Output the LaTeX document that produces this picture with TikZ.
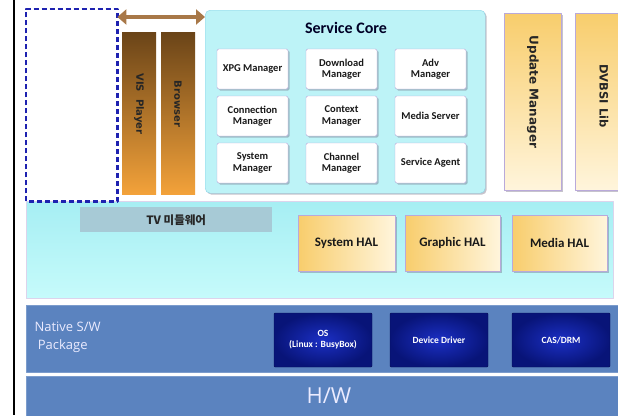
\documentclass[tikz,border=0pt]{standalone}
\usepackage{fontspec}
\setmainfont{Carlito}
\newfontfamily\krfont{Noto Sans CJK KR}
\newfontfamily\vfont{DejaVu Sans}
\newfontfamily\lightfont{Open Sans}
\usetikzlibrary{shadows,arrows.meta}
\definecolor{coreC}{HTML}{BDF3F7}
\definecolor{coreL}{HTML}{8CD2E6}
\definecolor{mwTop}{HTML}{A6EEF3}
\definecolor{mwBot}{HTML}{C6FBFB}
\definecolor{tvC}{HTML}{A7CAD6}
\definecolor{bandC}{HTML}{5B83BF}
\definecolor{mgrL}{HTML}{B9A9DA}
\definecolor{halL}{HTML}{F8CD6C}
\definecolor{halR}{HTML}{FFF5DC}
\definecolor{barTop}{HTML}{6A4418}
\definecolor{barBot}{HTML}{F3A23A}
\definecolor{arrC}{HTML}{A87848}
\definecolor{navyA}{HTML}{1B2FC4}
\definecolor{navyB}{HTML}{081478}
\definecolor{dashC}{HTML}{1E22B0}
\begin{document}
\begin{tikzpicture}[x=1pt,y=-1pt,line join=round,
  box/.style={anchor=north west,inner sep=0pt},
  shad/.style={drop shadow={shadow xshift=1.5pt,shadow yshift=-1.5pt,opacity=.35,fill=black!50!mgrL}},
  mgr/.style={draw=mgrL,fill=white,rounded corners=1.5pt,shad,minimum width=71pt,minimum height=40pt,
    align=center,inner sep=1pt,font=\bfseries\fontsize{10.5}{11.5}\selectfont,text=black!90},
  hal/.style={draw=mgrL,left color=halL,right color=halR,shad,minimum height=56pt,
    font=\bfseries\fontsize{13}{14}\selectfont,text=black!90},
  upd/.style={box,draw=mgrL,top color=halL,bottom color=halR,shad,minimum width=57pt,minimum height=177pt},
  bar/.style={box,top color=barTop,bottom color=barBot,minimum width=34pt,minimum height=162pt},
  dark/.style={draw=navyB!70!black,inner color=navyA,outer color=navyB,rounded corners=1pt,minimum width=98pt,
    minimum height=54pt,align=center,text=white,font=\bfseries\fontsize{9.5}{11}\selectfont},
  band/.style={box,fill=bandC,draw=bandC!80!white,minimum width=600pt},
  vtext/.style={rotate=-90,font=\vfont\bfseries\fontsize{10}{12}\selectfont,text=black!85},
  dashbox/.style={box,fill=white,minimum width=91pt,minimum height=192pt},
  biarrow/.style={arrC,line width=4pt,{Triangle[length=9pt,width=15pt]}-{Triangle[length=9pt,width=15pt]}}]
\useasboundingbox[fill=white] (0,0) rectangle (618,415);
\clip (0,0) rectangle (618,415);
\draw[line width=1.8pt] (14,0) -- (14,415);
% bottom layers
\node[band,minimum height=45pt] (hw) at (26,376) {};
\node[text=white!92!blue,font=\lightfont\fontsize{22}{24}\selectfont] (hwt) at (329,396) {H/W};
\node[band,minimum height=67pt] (native) at (26,305) {};
\node[anchor=north west,align=left,text=white!92!blue,font=\lightfont\fontsize{13}{18}\selectfont] (nat) at (31,318) {Native S/W\\\ Package};
\node[dark] (os) at (323,340) {OS\\(Linux : BusyBox)};
\node[dark] (dd) at (439,340) {Device Driver};
\node[dark] (cas) at (561,340) {CAS/DRM};
% middleware
\node[box,top color=mwTop,bottom color=mwBot,draw=mgrL!50!white,minimum width=587pt,minimum height=97pt] (mw) at (26,201) {};
\node[box,fill=tvC,minimum width=192pt,minimum height=25pt] (tv) at (80,207) {};
\node[font=\krfont\bfseries\fontsize{11.5}{12}\selectfont,text=black!85] (tvt) at (tv.center) {TV 미들웨어};
\node[hal,minimum width=97pt] (shal) at (346.5,243) {System HAL};
\node[hal,minimum width=95pt] (ghal) at (452.5,243) {Graphic HAL};
\node[hal,minimum width=95pt] (mhal) at (559.5,243) {Media HAL};
% upper blocks
\node[dashbox] (dash) at (26,9) {};
\draw[dashC,line width=2.4pt,dash pattern=on 5pt off 3pt] (dash.south west) rectangle (dash.north east);
\node[bar] (visbar) at (122,32) {};
\node[bar] (brbar) at (161,32) {};
\node[vtext] (vis) at (139,104) {VIS\ \ Player};
\node[vtext] (br) at (178,104) {Browser};
\node[box,fill=coreC,draw=coreL,rounded corners=5pt,shad,minimum width=280pt,minimum height=183pt] (core) at (205,10) {};
\node[font=\bfseries\fontsize{16}{18}\selectfont,text=black!85!blue] (coret) at (346,28) {Service Core};
\foreach \t [count=\i from 0] in {XPG Manager,Download\\Manager,Adv\\Manager,
    Connection\\Manager,Context\\Manager,Media Server,
    System\\Manager,Channel\\Manager,Service Agent}{
  \pgfmathsetmacro\cx{252.5+89*mod(\i,3)}
  \pgfmathsetmacro\cy{69+47*int(\i/3)}
  \node[mgr] (m\i) at (\cx,\cy) {\t};
}
\node[upd] (upd) at (504,13) {};
\node[upd,minimum width=62pt] (dvb) at (575,13) {};
\node[vtext,font=\vfont\bfseries\fontsize{12}{14}\selectfont] (updt) at (533,92) {Update Manager};
\node[vtext,font=\vfont\bfseries\fontsize{11.5}{14}\selectfont] (dvbt) at (604,96) {DVBSI Lib};
\coordinate (arr) at (0,17);
\draw[biarrow] (dash.east |- arr) -- (core.west |- arr);
\end{tikzpicture}
\end{document}
